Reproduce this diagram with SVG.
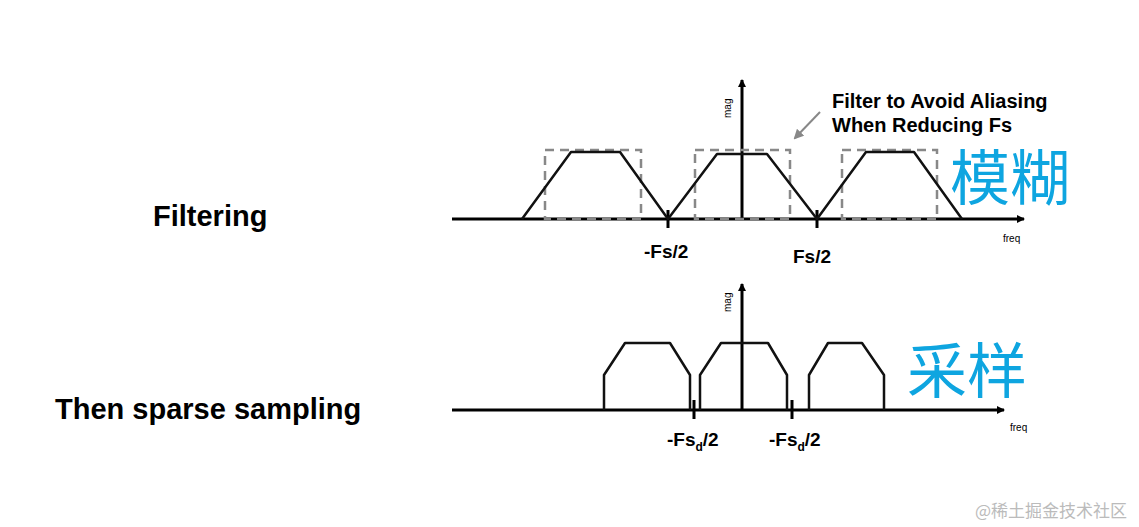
<svg xmlns="http://www.w3.org/2000/svg" width="1139" height="527" viewBox="0 0 1139 527">
<style>
.ax{stroke:#000;stroke-width:3;fill:none}
.sp{stroke:#111;stroke-width:2.5;fill:none;stroke-linejoin:round}
.db{stroke:#888;stroke-width:2.5;fill:none;stroke-dasharray:9 6}
.t{font-family:"Liberation Sans",Arial,sans-serif;fill:#000}
.lb{font-family:"Liberation Sans",Arial,sans-serif;font-weight:bold;font-size:29px;fill:#000}
.cn{font-family:"Noto Sans CJK SC",sans-serif;fill:#0ea5e0}
</style>
<defs>
<marker id="ah" markerWidth="8" markerHeight="8" refX="7" refY="4" orient="auto" markerUnits="userSpaceOnUse"><path d="M0,0 L8,4 L0,8 z" fill="#000"/></marker>
<marker id="ag" markerWidth="10" markerHeight="10" refX="8" refY="5" orient="auto" markerUnits="userSpaceOnUse"><path d="M0,0 L10,5 L0,10 z" fill="#888"/></marker>
</defs>
<rect width="1139" height="527" fill="#fff"/>
<g id="labels">
<text class="lb" x="153" y="226">Filtering</text>
<text class="lb" x="55" y="419">Then sparse sampling</text>
</g>
<g id="top">
<line class="ax" x1="452" y1="219" x2="1024" y2="219" marker-end="url(#ah)"/>
<line class="ax" x1="742" y1="219" x2="742" y2="80" marker-end="url(#ah)"/>
<line class="ax" x1="668" y1="210" x2="668" y2="228"/>
<line class="ax" x1="817" y1="210" x2="817" y2="228"/>
<rect class="db" x="545" y="150" width="96" height="69"/>
<rect class="db" x="695" y="150" width="95" height="69"/>
<rect class="db" x="842" y="150" width="95" height="69"/>
<path class="sp" d="M522,219 L571,152 L620,152 L668,219 L717,154 L767,154 L817,219 L866,152 L914,152 L962,219"/>
<line x1="820" y1="112" x2="795" y2="138" stroke="#888" stroke-width="2" marker-end="url(#ag)"/>
<text class="t" x="832" y="108" font-size="20" font-weight="bold">Filter to Avoid Aliasing</text>
<text class="t" x="832" y="132" font-size="20" font-weight="bold">When Reducing Fs</text>
<text class="t" font-size="10" transform="translate(731,118) rotate(-90)">mag</text>
<text class="t" x="1003" y="242" font-size="10">freq</text>
<text class="t" x="644" y="258" font-size="19" font-weight="bold">-Fs/2</text>
<text class="t" x="793" y="263" font-size="19" font-weight="bold">Fs/2</text>
<text class="cn" x="950" y="200" font-size="60">模糊</text>
</g>
<g id="bottom">
<line class="ax" x1="452" y1="410" x2="1004" y2="410" marker-end="url(#ah)"/>
<line class="ax" x1="742" y1="410" x2="742" y2="284" marker-end="url(#ah)"/>
<line class="ax" x1="694" y1="400" x2="694" y2="419"/>
<line class="ax" x1="792" y1="400" x2="792" y2="419"/>
<path class="sp" d="M604,410 L604,375 L625,343 L670,343 L690,375 L690,410"/>
<path class="sp" d="M700,410 L700,375 L721,343 L768,343 L787,375 L787,410"/>
<path class="sp" d="M809,410 L809,375 L828,343 L862,343 L884,375 L884,410"/>
<text class="t" font-size="10" transform="translate(731,312) rotate(-90)">mag</text>
<text class="t" x="1010" y="431" font-size="10">freq</text>
<text class="t" x="667" y="446" font-size="19" font-weight="bold">-Fs<tspan font-size="12" dy="5">d</tspan><tspan dy="-5">/2</tspan></text>
<text class="t" x="769" y="446" font-size="19" font-weight="bold">-Fs<tspan font-size="12" dy="5">d</tspan><tspan dy="-5">/2</tspan></text>
<text class="cn" x="907" y="393" font-size="60">采样</text>
</g>
<text x="975" y="517" font-family="Noto Sans CJK SC,sans-serif" font-size="17" fill="#bbb">@稀土掘金技术社区</text>
</svg>
